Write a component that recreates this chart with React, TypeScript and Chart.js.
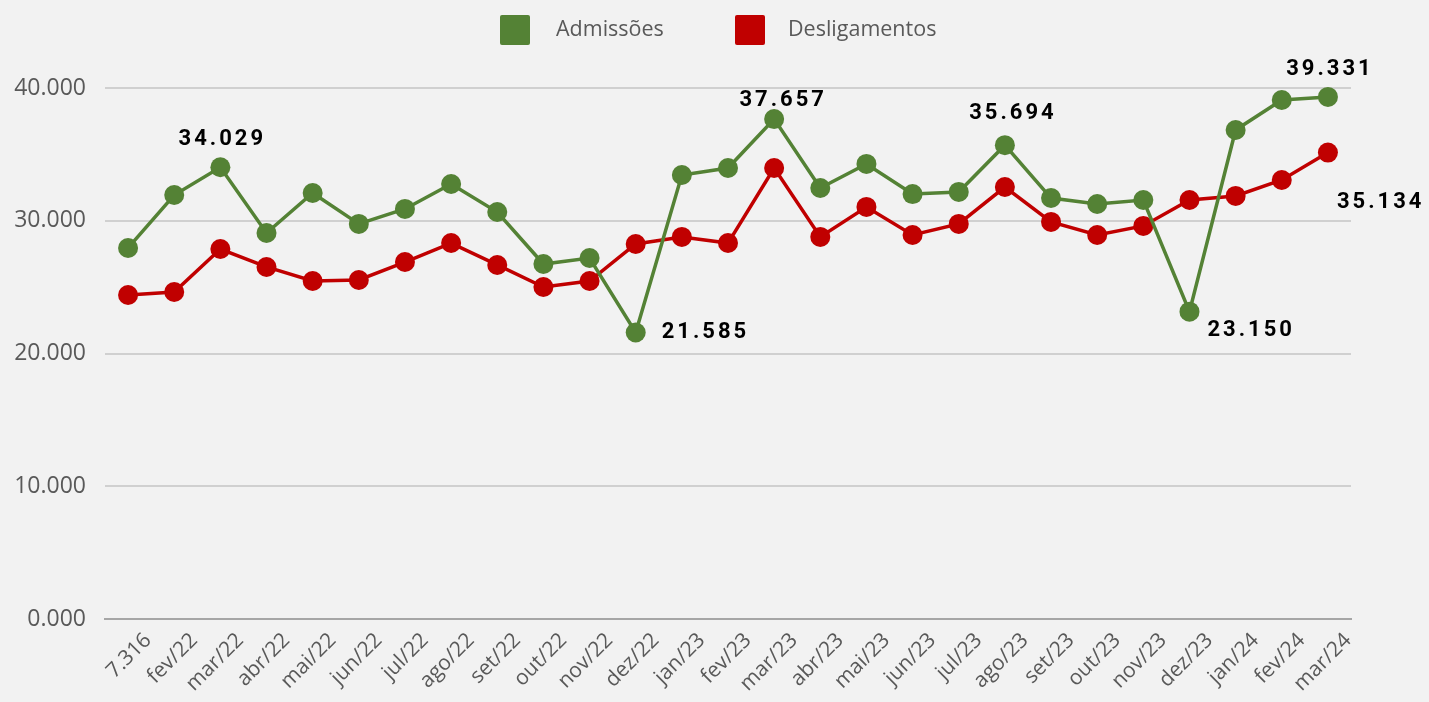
import React, { useEffect, useRef } from "react";
import { Chart, registerables } from "chart.js";

Chart.register(...registerables);

const categories = [
  "7.316", "fev/22", "mar/22", "abr/22", "mai/22", "jun/22", "jul/22", "ago/22", "set/22",
  "out/22", "nov/22", "dez/22", "jan/23", "fev/23", "mar/23", "abr/23", "mai/23", "jun/23",
  "jul/23", "ago/23", "set/23", "out/23", "nov/23", "dez/23", "jan/24", "fev/24", "mar/24",
];

const admissoes = [
  27950, 31940, 34029, 29080, 32090, 29760, 30890, 32770, 30660, 26740, 27190, 21585, 33450,
  33970, 37657, 32470, 34280, 32010, 32170, 35694, 31710, 31260, 31560, 23150, 36840, 39100, 39331,
];

const desligamentos = [
  24410, 24630, 27870, 26520, 25460, 25540, 26890, 28320, 26670, 25010, 25460, 28250, 28780,
  28320, 33970, 28780, 31040, 28930, 29760, 32540, 29910, 28930, 29610, 31560, 31870, 33070, 35134,
];

const yTicks = [0, 10000, 20000, 30000, 40000];

// which points carry a value label (dataset index, point index)
const labelled = [
  [0, 2], [0, 11], [0, 14], [0, 19], [0, 23], [0, 26], [1, 26],
];

// label placement (style only)
const labelPlacement = [
  { dx: 2, dy: -28, align: "center" },
  { dx: 26, dy: 0, align: "left" },
  { dx: 9, dy: -19, align: "center" },
  { dx: 8, dy: -32, align: "center" },
  { dx: 18, dy: 19, align: "left" },
  { dx: 2, dy: -27, align: "center" },
  { dx: 9, dy: 50, align: "left" },
];

const GREEN = "#548235";
const RED = "#C00000";
const BG = "#F2F2F2";
const TEXT = "#595959";

const fmt = (v: number) => (v / 1000).toFixed(3);

export default function App() {
  const ref = useRef<HTMLCanvasElement | null>(null);

  useEffect(() => {
    document.body.style.margin = "0";
    document.body.style.background = BG;
    const canvas = ref.current;
    if (!canvas) return;

    const bgPlugin = {
      id: "bg",
      beforeDraw(chart: any) {
        const { ctx, width, height } = chart;
        ctx.save();
        ctx.fillStyle = BG;
        ctx.fillRect(0, 0, width, height);
        ctx.restore();
      },
    };

    const legendPlugin = {
      id: "customLegend",
      afterDraw(chart: any) {
        const ctx = chart.ctx;
        const items = [
          { text: "Admissões", color: GREEN, x: 500, gap: 56 },
          { text: "Desligamentos", color: RED, x: 735, gap: 53 },
        ];
        ctx.save();
        ctx.font = "21.5px 'Open Sans'";
        ctx.textBaseline = "middle";
        ctx.textAlign = "left";
        items.forEach((it) => {
          ctx.fillStyle = it.color;
          ctx.beginPath();
          (ctx as any).roundRect(it.x, 15, 30, 30, 2);
          ctx.fill();
          ctx.fillStyle = TEXT;
          ctx.fillText(it.text, it.x + it.gap, 30);
        });
        ctx.restore();
      },
    };

    const labelPlugin = {
      id: "valueLabels",
      afterDatasetsDraw(chart: any) {
        const ctx = chart.ctx;
        ctx.save();
        ctx.font = "bold 22px Roboto";
        (ctx as any).letterSpacing = "3px";
        ctx.fillStyle = "#000000";
        ctx.textBaseline = "middle";
        labelled.forEach(([ds, idx], i) => {
          const el = chart.getDatasetMeta(ds).data[idx];
          const value = chart.data.datasets[ds].data[idx] as number;
          const p = labelPlacement[i];
          ctx.textAlign = p.align as CanvasTextAlign;
          ctx.fillText(fmt(value), el.x + p.dx, el.y + p.dy);
        });
        ctx.restore();
      },
    };

    const chart = new Chart(canvas, {
      type: "line",
      data: {
        labels: categories,
        datasets: [
          {
            label: "Admissões",
            data: admissoes,
            borderColor: GREEN,
            backgroundColor: GREEN,
            pointBackgroundColor: GREEN,
            pointBorderColor: GREEN,
            borderWidth: 3.5,
            pointRadius: 10,
            pointBorderWidth: 0,
            tension: 0,
            clip: false as any,
          },
          {
            label: "Desligamentos",
            data: desligamentos,
            borderColor: RED,
            backgroundColor: RED,
            pointBackgroundColor: RED,
            pointBorderColor: RED,
            borderWidth: 3.5,
            pointRadius: 10,
            pointBorderWidth: 0,
            tension: 0,
            clip: false as any,
          },
        ],
      },
      options: {
        animation: false,
        responsive: false,
        maintainAspectRatio: false,
        layout: { padding: { top: 88, right: 78, left: 0, bottom: 0 } },
        plugins: {
          legend: { display: false },
          tooltip: { enabled: false },
        },
        scales: {
          x: {
            offset: true,
            grid: { display: false, drawTicks: false },
            border: { display: true, color: "#A6A6A6", width: 2 },
            ticks: {
              autoSkip: false,
              maxRotation: 45,
              minRotation: 45,
              labelOffset: 20,
              padding: 9,
              color: TEXT,
              font: { family: "'Open Sans'", size: 21 },
            },
            afterFit(scale: any) {
              scale.height = 83;
            },
          },
          y: {
            min: 0,
            max: 40000,
            afterBuildTicks(scale: any) {
              scale.ticks = yTicks.map((v) => ({ value: v }));
            },
            grid: { color: "#D0D0D0", lineWidth: 2, drawTicks: false },
            border: { display: false },
            ticks: {
              padding: 19,
              color: TEXT,
              font: { family: "'Open Sans'", size: 23 },
              callback: (v: any) => fmt(Number(v)),
            },
            afterFit(scale: any) {
              scale.width = 105;
            },
          },
        },
      },
      plugins: [bgPlugin, legendPlugin, labelPlugin],
    });

    return () => chart.destroy();
  }, []);

  return <canvas ref={ref} width={1429} height={702} style={{ display: "block" }} />;
}
